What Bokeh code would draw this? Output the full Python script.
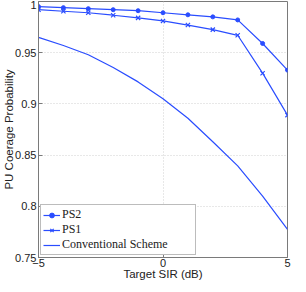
from bokeh.plotting import figure
from bokeh.models import FixedTicker, Legend, LegendItem, Range1d
from bokeh.embed import file_html
from bokeh.resources import INLINE

sir_db = [-5, -4, -3, -2, -1, 0, 1, 2, 3, 4, 5]
ps2 = [0.995, 0.994, 0.993, 0.992, 0.991, 0.989, 0.987, 0.985, 0.982, 0.959, 0.933]
ps1 = [0.992, 0.9905, 0.989, 0.9866, 0.984, 0.981, 0.977, 0.9725, 0.967, 0.930, 0.889]
conventional = [0.965, 0.957, 0.948, 0.9355, 0.9215, 0.905, 0.886, 0.863, 0.8395, 0.810, 0.7775]

x_ticks = [-5, 0, 5]
y_ticks = [0.75, 0.8, 0.85, 0.9, 0.95, 1.0]
y_tick_labels = ["0.75", "0.8", "0.85", "0.9", "0.95", "1"]

BLUE = "#2a4dff"
GRAY = "#7a7a7a"

p = figure(width=298, height=284, output_backend="svg", toolbar_location=None,
           x_range=Range1d(-5, 5), y_range=Range1d(0.75, 1.0),
           min_border_left=32, min_border_right=11, min_border_top=1, min_border_bottom=27)

r2 = p.line(sir_db, ps2, line_color=BLUE, line_width=1.2)
m2 = p.scatter(sir_db, ps2, marker="circle", size=4, fill_color=BLUE, line_color=BLUE)
r1 = p.line(sir_db, ps1, line_color=BLUE, line_width=1.2)
m1 = p.scatter(sir_db, ps1, marker="x", size=6, line_color=BLUE, line_width=1.2)
rc = p.line(sir_db, conventional, line_color=BLUE, line_width=1.2)

p.xaxis.ticker = FixedTicker(ticks=x_ticks)
p.yaxis.ticker = FixedTicker(ticks=y_ticks)
p.yaxis.major_label_overrides = {t: s for t, s in zip(y_ticks, y_tick_labels)}
p.xaxis.axis_label = "Target SIR (dB)"
p.yaxis.axis_label = "PU Coerage Probability"

for ax in (p.xaxis[0], p.yaxis[0]):
    ax.major_label_text_font = "Liberation Sans"
    ax.major_label_text_font_size = "11px"
    ax.major_label_text_color = "#222222"
    ax.axis_label_text_font = "Liberation Sans"
    ax.axis_label_text_font_size = "11.5px"
    ax.axis_label_text_font_style = "normal"
    ax.axis_label_text_color = "#222222"
    ax.axis_line_color = GRAY
    ax.major_tick_line_color = GRAY
    ax.major_tick_in = 4
    ax.major_tick_out = 0
    ax.minor_tick_line_color = None

p.xaxis.major_label_standoff = 1
p.xaxis.axis_label_standoff = -2
p.yaxis.major_label_standoff = 2
p.yaxis.axis_label_standoff = -3

p.outline_line_color = GRAY
p.outline_line_width = 1
p.grid.grid_line_color = "#d0d0d0"
p.grid.grid_line_dash = "1 2"
p.background_fill_color = "white"
p.border_fill_color = "white"

legend = Legend(items=[
    LegendItem(label="PS2", renderers=[r2, m2]),
    LegendItem(label="PS1", renderers=[r1, m1]),
    LegendItem(label="Conventional Scheme", renderers=[rc]),
], location="bottom_left")
legend.label_text_font = "Liberation Serif"
legend.label_text_font_size = "12px"
legend.label_text_line_height = 1.0
legend.label_text_color = "#222222"
legend.border_line_color = GRAY
legend.border_line_width = 1
legend.background_fill_alpha = 1
legend.glyph_width = 17
legend.glyph_height = 12
legend.label_height = 12
legend.label_width = 131
legend.label_standoff = 2
legend.spacing = -1
legend.padding = 2
legend.margin = 2
p.add_layout(legend)

open("out.html", "w").write(file_html(p, INLINE))
